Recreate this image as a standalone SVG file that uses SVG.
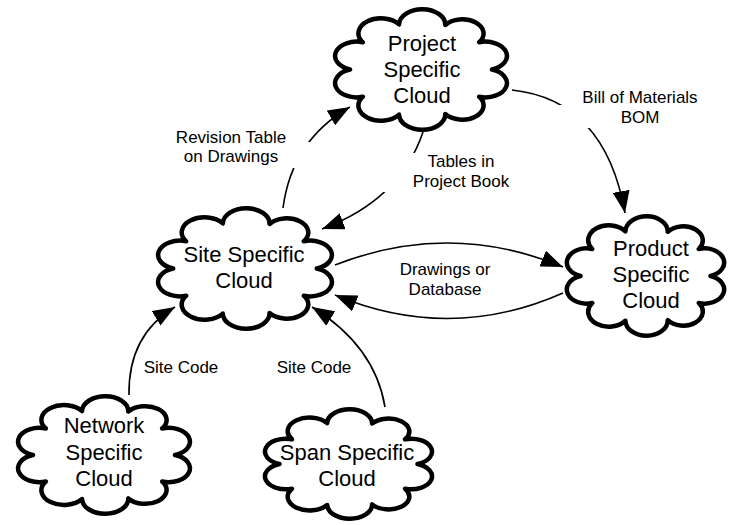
<svg xmlns="http://www.w3.org/2000/svg" xmlns:xlink="http://www.w3.org/1999/xlink" width="731" height="525" viewBox="0 0 731 525">
<style>
.cloud{fill:#fff;stroke:#000;stroke-width:4.5;stroke-linejoin:round;vector-effect:non-scaling-stroke}
.conn{fill:none;stroke:#000;stroke-width:1.6}
.arr{marker-end:url(#ah)}
.ntxt{font-family:"Liberation Sans",Arial,sans-serif;font-size:22px;text-anchor:middle;fill:#000}
.ltxt{font-family:"Liberation Sans",Arial,sans-serif;font-size:17px;text-anchor:middle;fill:#000}
.lbg{fill:#fff;stroke:none}
</style>
<defs>
<marker id="ah" markerUnits="userSpaceOnUse" markerWidth="22" markerHeight="17" viewBox="0 0 22 17" refX="22" refY="8.5" orient="auto">
<path d="M0,0 L22,8.5 L0,17 Z" fill="#000"/>
</marker>
<path id="cloudshape" class="cloud" d="M90,50 A12,12 0 0 1 82.77,72.94 A12,12 0 0 1 63.68,87.59 A12,12 0 0 1 37.64,88.04 A12,12 0 0 1 17.23,72.94 A12,12 0 0 1 10,50 A12,12 0 0 1 17.23,27.06 A12,12 0 0 1 37.64,11.96 A12,12 0 0 1 63.68,12.41 A12,12 0 0 1 82.77,27.06 A12,12 0 0 1 90,50 Z"/>
</defs>
<rect x="0" y="0" width="731" height="525" fill="#fff"/>
<g id="connectors">
<path class="conn arr" d="M283,208 Q292,140 350,107"/>
<path class="conn arr" d="M423,132 Q400,200 322,229"/>
<path class="conn arr" d="M512,90 Q605,100 625,213"/>
<path class="conn arr" d="M335,265 Q450,220 563,267"/>
<path class="conn arr" d="M563,293 Q450,343 335,295"/>
<path class="conn arr" d="M129,395 Q128,335 175,307"/>
<path class="conn arr" d="M385,407 Q375,346 312,307"/>
</g>
<g id="labels">
<g id="lbl-revision">
<rect class="lbg" x="172" y="142" width="140" height="26"/>
<text class="ltxt" x="231" y="143">Revision Table</text>
<text class="ltxt" x="231" y="162">on Drawings</text>
</g>
<g id="lbl-tables">
<rect class="lbg" x="380" y="153" width="132" height="39"/>
<text class="ltxt" x="461" y="167">Tables in</text>
<text class="ltxt" x="461" y="187">Project Book</text>
</g>
<g id="lbl-bom">
<rect class="lbg" x="556" y="105" width="145" height="23"/>
<text class="ltxt" x="640" y="103">Bill of Materials</text>
<text class="ltxt" x="640" y="123">BOM</text>
</g>
<g id="lbl-drawings">
<text class="ltxt" x="445" y="275">Drawings or</text>
<text class="ltxt" x="445" y="295">Database</text>
</g>
<g id="lbl-sitecode1">
<text class="ltxt" x="181" y="373">Site Code</text>
</g>
<g id="lbl-sitecode2">
<text class="ltxt" x="314" y="373">Site Code</text>
</g>
</g>
<g id="project">
<use xlink:href="#cloudshape" transform="translate(332.25,10.25) scale(1.775,1.185)"/>
<text class="ntxt" x="422" y="51">Project</text>
<text class="ntxt" x="422" y="77">Specific</text>
<text class="ntxt" x="422" y="103">Cloud</text>
</g>
<g id="site">
<use xlink:href="#cloudshape" transform="translate(155.25,209.25) scale(1.795,1.185)"/>
<text class="ntxt" x="244" y="262">Site Specific</text>
<text class="ntxt" x="244" y="288">Cloud</text>
</g>
<g id="product">
<use xlink:href="#cloudshape" transform="translate(564.25,217.25) scale(1.625,1.175)"/>
<text class="ntxt" x="651" y="256">Product</text>
<text class="ntxt" x="651" y="282">Specific</text>
<text class="ntxt" x="651" y="308">Cloud</text>
</g>
<g id="network">
<use xlink:href="#cloudshape" transform="translate(15.25,397.25) scale(1.775,1.155)"/>
<text class="ntxt" x="104" y="433">Network</text>
<text class="ntxt" x="104" y="460">Specific</text>
<text class="ntxt" x="104" y="486">Cloud</text>
</g>
<g id="span">
<use xlink:href="#cloudshape" transform="translate(262.25,410.25) scale(1.725,1.075)"/>
<text class="ntxt" x="347" y="460">Span Specific</text>
<text class="ntxt" x="347" y="486">Cloud</text>
</g>
</svg>
